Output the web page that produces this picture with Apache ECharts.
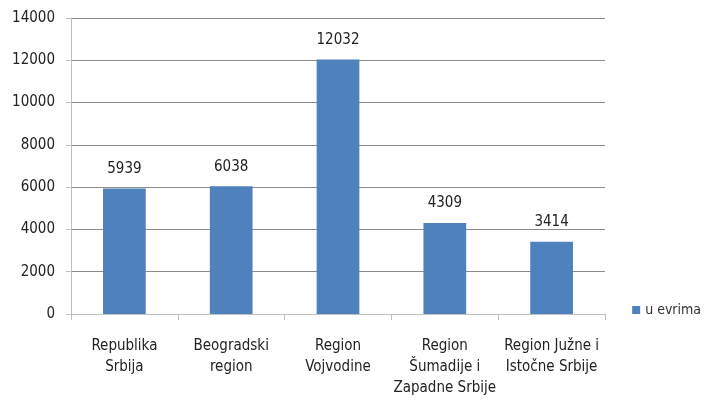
<!DOCTYPE html>
<html>
<head>
<meta charset="utf-8">
<script src="https://cdn.jsdelivr.net/npm/echarts@6/dist/echarts.min.js"></script>
<style>
  html, body { margin: 0; padding: 0; background: #fff; }
  #chart { width: 706px; height: 406px; }
</style>
</head>
<body>
<div id="chart"></div>
<script>
// podaci
const categories = [
    'Republika\nSrbija',
    'Beogradski\nregion',
    'Region\nVojvodine',
    'Region\nŠumadije i\nZapadne Srbije',
    'Region Južne i\nIstočne Srbije'
];
const values = [5939, 6038, 12032, 4309, 3414];
const seriesName = 'u evrima';

const font = "'Liberation Sans Narrow', 'DejaVu Sans Condensed', sans-serif";

const chart = echarts.init(document.getElementById('chart'));

chart.setOption({
    animation: false,
    textStyle: { fontFamily: font },
    grid: { left: 71, right: 101, top: 18, bottom: 92 },
    legend: {
        right: 0,
        top: 298,
        orient: 'vertical',
        itemWidth: 8,
        itemHeight: 8,
        itemGap: 4,
        icon: 'rect',
        textStyle: { fontFamily: font, fontSize: 14, color: '#333' },
        data: [seriesName]
    },
    xAxis: {
        type: 'category',
        data: categories,
        axisLine: { lineStyle: { color: '#bfbfbf' } },
        axisTick: { show: true, length: 6, lineStyle: { color: '#bfbfbf' } },
        axisLabel: {
            interval: 0,
            margin: 22,
            fontSize: 15,
            lineHeight: 21,
            color: '#222',
            fontFamily: font
        }
    },
    yAxis: {
        type: 'value',
        min: 0,
        max: 14000,
        interval: 2000,
        axisLine: { show: true, lineStyle: { color: '#bfbfbf' } },
        axisTick: { show: true, length: 5, lineStyle: { color: '#bfbfbf' } },
        axisLabel: {
            fontSize: 15,
            color: '#222',
            margin: 16,
            fontFamily: font,
            formatter: function (v) { return String(v); }
        },
        splitLine: { lineStyle: { color: '#8c8c8c', width: 1 } }
    },
    series: [{
        name: seriesName,
        type: 'bar',
        data: values,
        barWidth: '40%',
        itemStyle: { color: '#4f81bd' },
        label: {
            show: true,
            position: 'top',
            distance: 12,
            fontSize: 15,
            color: '#222',
            fontFamily: font
        }
    }]
});
</script>
</body>
</html>
